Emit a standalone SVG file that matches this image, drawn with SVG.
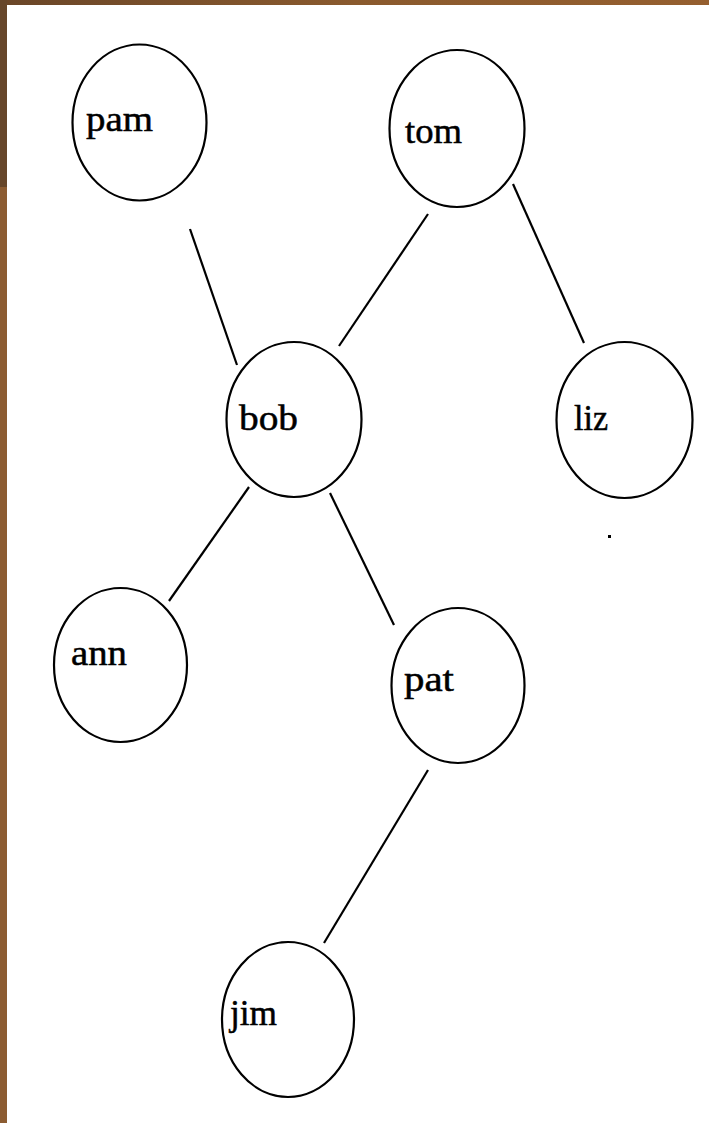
<svg xmlns="http://www.w3.org/2000/svg" width="709" height="1123" viewBox="0 0 709 1123">
  <defs>
    <linearGradient id="topband" x1="0" y1="0" x2="1" y2="0">
      <stop offset="0" stop-color="#6a4628"/>
      <stop offset="0.5" stop-color="#8a5a2e"/>
      <stop offset="1" stop-color="#955f2f"/>
    </linearGradient>
  </defs>
  <style>
    .node ellipse { fill: none; stroke: #000; stroke-width: 2.2; }
    .node text { font-family: "Liberation Serif", "Times New Roman", serif; font-size: 35px; fill: #000; stroke: #000; stroke-width: 0.5; }
    #edges line { stroke: #000; stroke-width: 2.2; }
  </style>

  <!-- page frame -->
  <rect x="0" y="0" width="709" height="1123" fill="#ffffff"/>
  <rect x="0" y="0" width="709" height="5" fill="url(#topband)"/>
  <rect x="0" y="0" width="7" height="187" fill="#66462a"/>
  <rect x="0" y="187" width="7" height="936" fill="#8c5c32"/>

  <!-- tree edges -->
  <g id="edges">
    <line x1="190" y1="229" x2="237" y2="365"/>
    <line x1="428" y1="214" x2="339" y2="346"/>
    <line x1="513" y1="184" x2="584" y2="343"/>
    <line x1="249" y1="487" x2="169" y2="601"/>
    <line x1="330" y1="493" x2="394" y2="625"/>
    <line x1="428" y1="770" x2="324" y2="943"/>
  </g>

  <g id="pam" class="node">
    <ellipse cx="139.5" cy="122.5" rx="67" ry="78"/>
    <text x="86" y="131" textLength="67" lengthAdjust="spacingAndGlyphs">pam</text>
  </g>
  <g id="tom" class="node">
    <ellipse cx="457" cy="128.5" rx="67.5" ry="78.5"/>
    <text x="405" y="143" textLength="57" lengthAdjust="spacingAndGlyphs">tom</text>
  </g>
  <g id="bob" class="node">
    <ellipse cx="294" cy="419.5" rx="67.5" ry="77.5"/>
    <text x="239" y="430" textLength="59" lengthAdjust="spacingAndGlyphs">bob</text>
  </g>
  <g id="liz" class="node">
    <ellipse cx="624.5" cy="420" rx="68" ry="78"/>
    <text x="574" y="430" textLength="34" lengthAdjust="spacingAndGlyphs">liz</text>
  </g>
  <g id="ann" class="node">
    <ellipse cx="120.5" cy="665" rx="66.5" ry="77"/>
    <text x="71" y="665" textLength="56" lengthAdjust="spacingAndGlyphs">ann</text>
  </g>
  <g id="pat" class="node">
    <ellipse cx="458" cy="685.5" rx="66.5" ry="77.5"/>
    <text x="404" y="691" textLength="50" lengthAdjust="spacingAndGlyphs">pat</text>
  </g>
  <g id="jim" class="node">
    <ellipse cx="288" cy="1019.5" rx="66" ry="77.5"/>
    <text x="230" y="1025" textLength="47" lengthAdjust="spacingAndGlyphs">jim</text>
  </g>

  <!-- stray mark -->
  <rect x="608" y="535" width="3" height="3" fill="#000"/>
</svg>
